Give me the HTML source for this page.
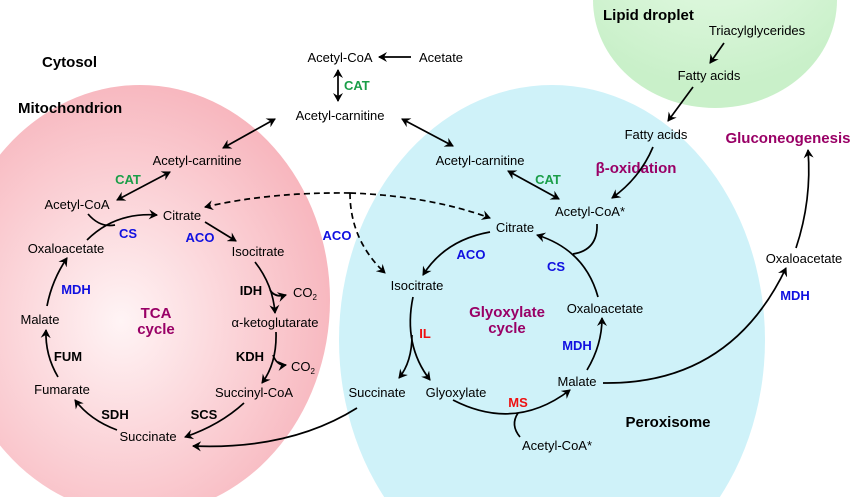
<!DOCTYPE html>
<html><head><meta charset="utf-8"><style>
html,body{margin:0;background:#fff;width:850px;height:497px;overflow:hidden}
svg{display:block;font-family:"Liberation Sans",Arial,sans-serif}
text{font-size:13px;fill:#000;text-anchor:middle}
.b{font-weight:bold}
.g{fill:#1a9e48;font-weight:bold}
.bl{fill:#1010e0;font-weight:bold}
.r{fill:#ee1111;font-weight:bold}
.p{fill:#990066;font-weight:bold;font-size:15px}
.h{font-weight:bold;font-size:15px;text-anchor:start}
path{fill:none;stroke:#000;stroke-width:1.7}
</style></head><body>
<svg width="850" height="497" viewBox="0 0 850 497">
<defs>
<radialGradient id="pk" cx="0.45" cy="0.55" r="0.6"><stop offset="0" stop-color="#fff4f5"/><stop offset="1" stop-color="#f7b3bb"/></radialGradient>
<radialGradient id="gr" cx="0.5" cy="0.2" r="0.7"><stop offset="0" stop-color="#e8fbe8"/><stop offset="1" stop-color="#c9f0c9"/></radialGradient>
<marker id="a" markerWidth="10" markerHeight="10" refX="8" refY="5" orient="auto-start-reverse" markerUnits="userSpaceOnUse"><path d="M0,0 L9,5 L0,10 L3,5 Z" style="fill:#000;stroke:none"/></marker>
</defs>
<ellipse cx="140" cy="300" rx="190" ry="215" fill="url(#pk)"/>
<ellipse cx="715" cy="0" rx="122" ry="108" fill="url(#gr)"/>
<ellipse cx="552" cy="340" rx="213" ry="255" fill="#cff2f9"/>

<text x="42" y="67" class="h">Cytosol</text>
<text x="18" y="113" class="h">Mitochondrion</text>
<text x="603" y="20" class="h">Lipid droplet</text>
<text x="668" y="427" class="b" style="font-size:15px">Peroxisome</text>

<text x="757" y="35">Triacylglycerides</text>
<text x="709" y="80">Fatty acids</text>
<text x="656" y="139">Fatty acids</text>
<text x="636" y="173" class="p">β-oxidation</text>
<text x="788" y="143" class="p">Gluconeogenesis</text>

<text x="340" y="62">Acetyl-CoA</text>
<text x="441" y="62">Acetate</text>
<text x="344" y="90" class="g" style="text-anchor:start">CAT</text>
<text x="340" y="120">Acetyl-carnitine</text>

<text x="197" y="165">Acetyl-carnitine</text>
<text x="128" y="184" class="g">CAT</text>
<text x="77" y="209">Acetyl-CoA</text>
<text x="182" y="220">Citrate</text>
<text x="128" y="238" class="bl">CS</text>
<text x="66" y="253">Oxaloacetate</text>
<text x="200" y="242" class="bl">ACO</text>
<text x="258" y="256">Isocitrate</text>
<text x="251" y="295" class="b">IDH</text>
<text x="293" y="297" style="text-anchor:start">CO<tspan font-size="8" dy="3">2</tspan></text>
<text x="275" y="327">α-ketoglutarate</text>
<text x="250" y="361" class="b">KDH</text>
<text x="291" y="371" style="text-anchor:start">CO<tspan font-size="8" dy="3">2</tspan></text>
<text x="254" y="397">Succinyl-CoA</text>
<text x="204" y="419" class="b">SCS</text>
<text x="115" y="419" class="b">SDH</text>
<text x="148" y="441">Succinate</text>
<text x="62" y="394">Fumarate</text>
<text x="68" y="361" class="b">FUM</text>
<text x="40" y="324">Malate</text>
<text x="76" y="294" class="bl">MDH</text>
<text x="156" y="318" class="p">TCA</text>
<text x="156" y="334" class="p">cycle</text>
<text x="337" y="240" class="bl">ACO</text>

<text x="480" y="165">Acetyl-carnitine</text>
<text x="548" y="184" class="g">CAT</text>
<text x="590" y="216">Acetyl-CoA*</text>
<text x="515" y="232">Citrate</text>
<text x="471" y="259" class="bl">ACO</text>
<text x="417" y="290">Isocitrate</text>
<text x="556" y="271" class="bl">CS</text>
<text x="605" y="313">Oxaloacetate</text>
<text x="507" y="317" class="p">Glyoxylate</text>
<text x="507" y="333" class="p">cycle</text>
<text x="425" y="338" class="r">IL</text>
<text x="577" y="350" class="bl">MDH</text>
<text x="577" y="386">Malate</text>
<text x="377" y="397">Succinate</text>
<text x="456" y="397">Glyoxylate</text>
<text x="518" y="407" class="r">MS</text>
<text x="557" y="450">Acetyl-CoA*</text>
<text x="804" y="263">Oxaloacetate</text>
<text x="795" y="300" class="bl">MDH</text>

<path d="M411,57 L379,57" marker-end="url(#a)"/>
<path d="M338,70 L338,101" marker-start="url(#a)" marker-end="url(#a)"/>
<path d="M223,148 L275,119" marker-start="url(#a)" marker-end="url(#a)"/>
<path d="M402,119 L453,146" marker-start="url(#a)" marker-end="url(#a)"/>
<path d="M724,43 L710,63" marker-end="url(#a)"/>
<path d="M693,87 L668,121" marker-end="url(#a)"/>
<path d="M117,200 L170,172" marker-start="url(#a)" marker-end="url(#a)"/>
<path d="M88,214 Q100,228 115,225"/>
<path d="M87,240 Q115,212 157,215" marker-end="url(#a)"/>
<path d="M205,222 L236,241" marker-end="url(#a)"/>
<path d="M255,262 Q273,285 275,313" marker-end="url(#a)"/>
<path d="M270,290 Q275,298 286,295" marker-end="url(#a)"/>
<path d="M276,332 Q277,363 262,383" marker-end="url(#a)"/>
<path d="M273,355 Q277,366 286,365" marker-end="url(#a)"/>
<path d="M244,403 Q220,425 185,437" marker-end="url(#a)"/>
<path d="M117,430 Q90,420 75,400" marker-end="url(#a)"/>
<path d="M58,377 Q45,355 46,330" marker-end="url(#a)"/>
<path d="M47,306 Q52,280 67,258" marker-end="url(#a)"/>
<path d="M350,193 Q270,192 205,207" stroke-dasharray="6,4" marker-end="url(#a)"/>
<path d="M350,193 Q430,196 490,218" stroke-dasharray="6,4" marker-end="url(#a)"/>
<path d="M350,193 Q350,240 385,273" stroke-dasharray="6,4" marker-end="url(#a)"/>
<path d="M508,171 L559,199" marker-start="url(#a)" marker-end="url(#a)"/>
<path d="M653,147 Q640,178 612,198" marker-end="url(#a)"/>
<path d="M597,224 Q598,250 573,254"/>
<path d="M598,297 Q585,250 537,235" marker-end="url(#a)"/>
<path d="M490,232 Q445,240 423,275" marker-end="url(#a)"/>
<path d="M413,297 Q403,345 430,380" marker-end="url(#a)"/>
<path d="M412,335 Q412,362 399,378" marker-end="url(#a)"/>
<path d="M453,400 Q515,432 570,390" marker-end="url(#a)"/>
<path d="M520,437 Q510,425 518,413"/>
<path d="M587,370 Q602,345 602,318" marker-end="url(#a)"/>
<path d="M603,383 Q730,385 786,268" marker-end="url(#a)"/>
<path d="M796,248 Q812,200 808,150" marker-end="url(#a)"/>
<path d="M357,408 Q290,450 193,446" marker-end="url(#a)"/>
</svg>
</body></html>
